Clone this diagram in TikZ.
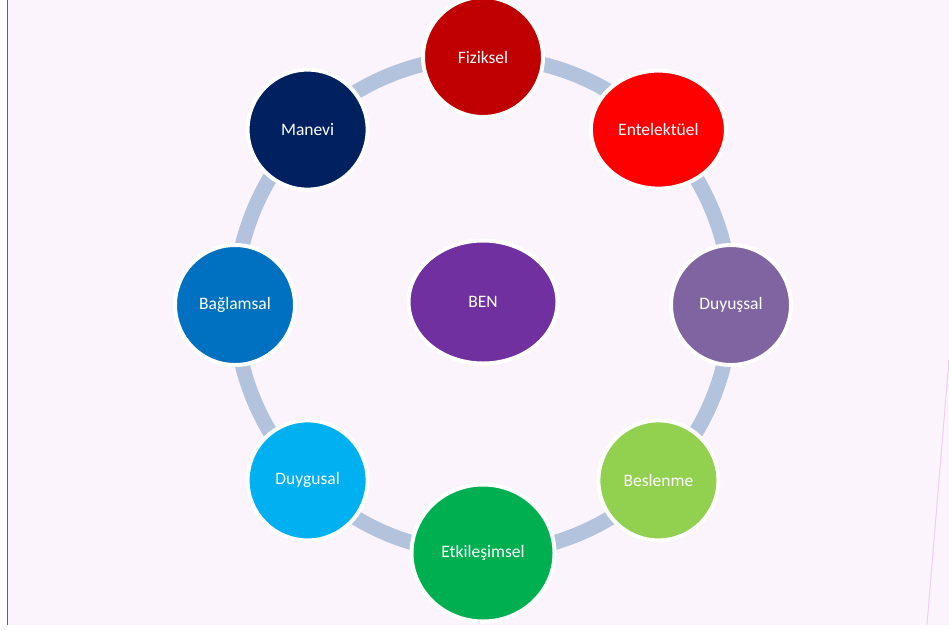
\documentclass[tikz,border=0pt]{standalone}
\usepackage{fontspec}
\setmainfont{Carlito}
\usetikzlibrary{shapes.geometric}
\definecolor{bgpink}{HTML}{FBF4FC}
\definecolor{edgepurple}{HTML}{8E3FAE}
\definecolor{edgepink}{HTML}{F0CCF2}
\definecolor{ringblue}{HTML}{B3C3DE}
\definecolor{cFiz}{HTML}{C00000}
\definecolor{cEnt}{HTML}{FF0000}
\definecolor{cDuy}{HTML}{8064A2}
\definecolor{cBes}{HTML}{92D050}
\definecolor{cEtk}{HTML}{00B050}
\definecolor{cDug}{HTML}{00B0F0}
\definecolor{cBag}{HTML}{0070C0}
\definecolor{cMan}{HTML}{002060}
\definecolor{cBen}{HTML}{7030A0}
\tikzset{
  bubble/.style={ellipse, draw=white, line width=4pt, inner sep=0pt,
    text=white, font=\fontsize{17.5}{20}\selectfont,
    minimum width=120pt, minimum height=120pt},
}
\begin{document}
\begin{tikzpicture}[x=1pt,y=-1pt]
\useasboundingbox (0,0) rectangle (949,630);
\fill[white] (0,0) rectangle (949,630);
\fill[bgpink] (7.5,0) rectangle (949,624.5);
\draw[edgepurple, line width=1.3pt] (7.5,0) -- (7.5,624.5);
\draw[edgepink, line width=1pt] (949,360) -- (927,624.5);
% ring
\draw[ringblue, line width=15pt] (483,305) circle[radius=248];
% nodes
\node[bubble, fill=cFiz] (fiz) at (483,57) {Fiziksel};
\node[bubble, fill=cEnt, minimum width=135pt, minimum height=118pt] (ent) at (658.4,129.6) {Entelektüel};
\node[bubble, fill=cDuy] (duy) at (731,305) {Duyuşsal};
\node[bubble, fill=cBes] (bes) at (658.4,480.4) {Beslenme};
\node[bubble, fill=cEtk, minimum width=143pt, minimum height=137pt] (etk) at (483,553) {Etkileşimsel};
\node[bubble, fill=cDug] (dug) at (307.6,480.4) {Duygusal};
\node[bubble, fill=cBag] (bag) at (235,305) {Bağlamsal};
\node[bubble, fill=cMan] (man) at (307.6,129.6) {Manevi};
\node[bubble, fill=cBen, minimum width=149pt, minimum height=123pt] (ben) at (483,302) {BEN};
\end{tikzpicture}
\end{document}
